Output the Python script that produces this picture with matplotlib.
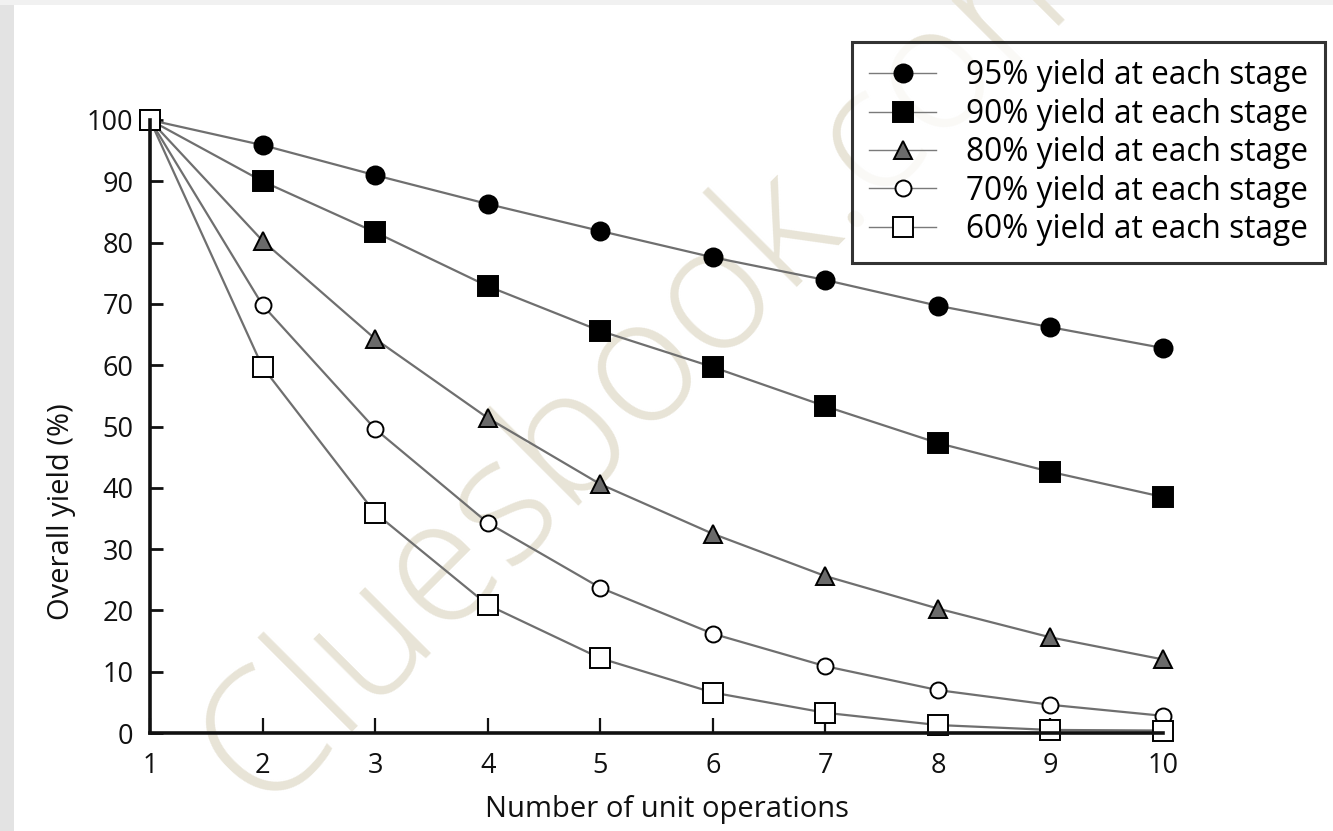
import matplotlib
matplotlib.use("Agg")
import matplotlib.pyplot as plt
from matplotlib.patches import Rectangle

# Number of unit operations
operations = [1, 2, 3, 4, 5, 6, 7, 8, 9, 10]

# Overall yield (%) for each per-stage yield
yield_95 = [100, 95.9, 91.0, 86.3, 81.9, 77.6, 73.9, 69.7, 66.2, 62.8]
yield_90 = [100, 90.0, 81.7, 72.9, 65.6, 59.7, 53.3, 47.3, 42.6, 38.5]
yield_80 = [100, 80.3, 64.3, 51.4, 40.6, 32.5, 25.6, 20.3, 15.6, 12.0]
yield_70 = [100, 69.8, 49.6, 34.3, 23.7, 16.2, 10.9, 7.0, 4.6, 2.8]
yield_60 = [100, 59.7, 35.9, 20.9, 12.2, 6.6, 3.3, 1.3, 0.5, 0.4]

series_labels = [
    "95% yield at each stage",
    "90% yield at each stage",
    "80% yield at each stage",
    "70% yield at each stage",
    "60% yield at each stage",
]
y_ticks = [0, 10, 20, 30, 40, 50, 60, 70, 80, 90, 100]

plt.rcParams["font.family"] = ["Open Sans", "DejaVu Sans"]

W, H = 1333, 831
fig = plt.figure(figsize=(W / 100, H / 100), dpi=100)
fig.patch.set_facecolor("white")

# grey page edges
fig.patches.append(Rectangle((0, 0), 14 / W, 1, transform=fig.transFigure,
                             facecolor="#e3e3e3", edgecolor="none", zorder=-10))
fig.patches.append(Rectangle((0, 1 - 5 / H), 1, 5 / H, transform=fig.transFigure,
                             facecolor="#f1f1f1", edgecolor="none", zorder=-10))

# watermark
fig.text(262 / W, 1 - 812 / H, "Cluesbook.com", rotation=45, fontsize=126,
         color="#e8e4d7", fontweight="light", ha="left", va="baseline",
         rotation_mode="anchor", zorder=-5)

ax = fig.add_axes([150 / W, 1 - 733 / H, (1163 - 150) / W, (733 - 120) / H])
ax.set_facecolor("none")

line_kw = dict(color="#6f6f6f", linewidth=1.6, markeredgecolor="black",
               markeredgewidth=1.4, clip_on=False)
styles = [
    dict(marker="o", markersize=13, markerfacecolor="black"),
    dict(marker="s", markersize=14, markerfacecolor="black"),
    dict(marker="^", markersize=13, markerfacecolor="#6a6a6a"),
    dict(marker="o", markersize=11.5, markerfacecolor="white"),
    dict(marker="s", markersize=14, markerfacecolor="white"),
]
all_series = [yield_95, yield_90, yield_80, yield_70, yield_60]
for vals, lab, st in zip(all_series, series_labels, styles):
    ax.plot(operations, vals, label=lab, **line_kw, **st)

ax.set_xlim(1, 10)
ax.set_ylim(0, 100)
ax.set_xticks(operations)
ax.set_yticks(y_ticks)

for side in ("top", "right"):
    ax.spines[side].set_visible(False)
for side in ("left", "bottom"):
    ax.spines[side].set_linewidth(2.6)
    ax.spines[side].set_color("#111111")

ax.tick_params(axis="y", direction="in", length=9, width=2, labelsize=19.5,
               pad=12, colors="#111111")
ax.tick_params(axis="x", direction="in", length=11, width=1.6, labelsize=19.5,
               pad=14, colors="#111111")

ax.set_xlabel("Number of unit operations", fontsize=21, color="#111111")
ax.set_ylabel("Overall yield (%)", fontsize=21, color="#111111")
ax.xaxis.set_label_coords((667 - 150) / (1163 - 150), -(795 - 733) / (733 - 120))
ax.yaxis.set_label_coords(-(150 - 76) / (1163 - 150), (733 - 512) / (733 - 120))

leg = ax.legend(loc="upper left", bbox_to_anchor=(852 / W, 1 - 42 / H),
                bbox_transform=fig.transFigure, fontsize=22.8, frameon=True,
                fancybox=False, edgecolor="black", handlelength=2.1,
                handletextpad=0.95, labelspacing=0.17, borderpad=0.55,
                borderaxespad=0)
leg.get_frame().set_linewidth(2.2)
for h in leg.legend_handles:
    h.set_linewidth(1.0)
    h.set_color("#7a7a7a")
    h.set_markeredgecolor("black")

fig.savefig("out.png", dpi=100)
